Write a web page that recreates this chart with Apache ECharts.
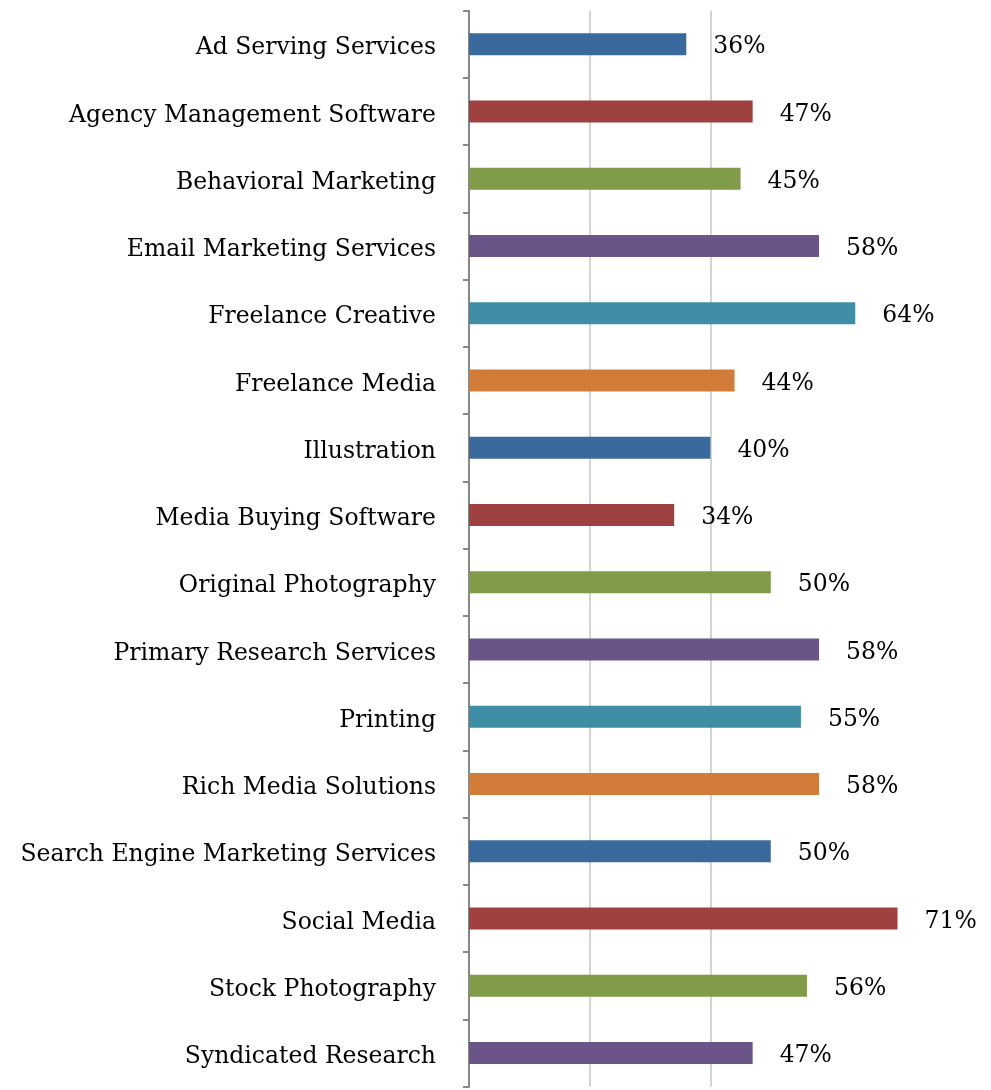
<!DOCTYPE html>
<html>
<head>
<meta charset="utf-8">
<script src="https://cdn.jsdelivr.net/npm/echarts@6/dist/echarts.min.js"></script>
<style>
html,body{margin:0;padding:0;background:#fff;}
#chart{width:991px;height:1090px;}
</style>
</head>
<body>
<div id="chart"></div>
<script>
var categories = [
  "Ad Serving Services",
  "Agency Management Software",
  "Behavioral Marketing",
  "Email Marketing Services",
  "Freelance Creative",
  "Freelance Media",
  "Illustration",
  "Media Buying Software",
  "Original Photography",
  "Primary Research Services",
  "Printing",
  "Rich Media Solutions",
  "Search Engine Marketing Services",
  "Social Media",
  "Stock Photography",
  "Syndicated Research"
];
var values = [36, 47, 45, 58, 64, 44, 40, 34, 50, 58, 55, 58, 50, 71, 56, 47];
var palette = ["#3A6A9D", "#9E4140", "#809C48", "#6A5488", "#3F8EA6", "#D17C38"];
var gridValues = [20, 40];

var chart = echarts.init(document.getElementById('chart'), null, {renderer: 'canvas'});
var fontFam = "'DejaVu Serif', Georgia, serif";
chart.setOption({
  animation: false,
  backgroundColor: '#ffffff',
  grid: {left: 469, right: 9, top: 10.7, bottom: 3.3, containLabel: false},
  xAxis: {
    type: 'value', min: 0, max: 85,
    axisLine: {show: false}, axisTick: {show: false},
    axisLabel: {show: false}, splitLine: {show: false}
  },
  yAxis: {
    type: 'category', data: categories, inverse: true,
    axisLine: {show: true, lineStyle: {color: '#888888', width: 2}},
    axisTick: {show: true, length: 6, lineStyle: {color: '#888888', width: 2}},
    axisLabel: {
      margin: 33, color: '#000',
      formatter: function (v) { return '{a|' + v + '}'; },
      rich: {a: {fontFamily: fontFam, fontSize: 23.5, color: '#000', padding: [8, 0, 0, 0]}}
    }
  },
  series: [{
    type: 'bar',
    data: values.map(function (v, i) {
      return {value: v, itemStyle: {color: palette[i % palette.length]}};
    }),
    barWidth: 22,
    z: 3,
    label: {
      show: true, position: 'right', distance: 27, offset: [0, 3],
      formatter: '{c}%', color: '#000', fontFamily: fontFam, fontSize: 23.5
    },
    markLine: {
      silent: true, symbol: 'none', z: 1,
      label: {show: false},
      lineStyle: {color: '#d4d4d4', width: 2, type: 'solid'},
      data: gridValues.map(function (g) { return {xAxis: g}; })
    }
  }]
});
</script>
</body>
</html>
